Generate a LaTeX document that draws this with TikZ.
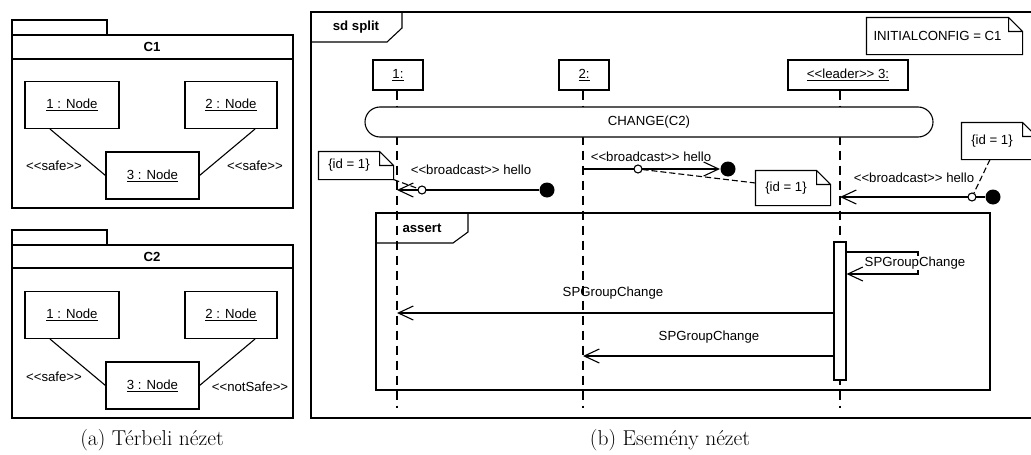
\documentclass[tikz,border=0pt]{standalone}
\usepackage{fontspec}
\newfontfamily\umlfont{Liberation Sans}
\newcommand{\sztereo}[1]{<\kern0pt<#1>\kern0pt>}
\usetikzlibrary{positioning, arrows.meta}

\begin{document}
\begin{tikzpicture}[x=1pt, y=-1pt, line width=1.1pt,
    doboz/.style={draw, rectangle, inner sep=0pt, font=\umlfont\fontsize{13.2}{15}\selectfont},
    cimke/.style={inner sep=1pt, font=\umlfont\fontsize{13.2}{15}\selectfont},
    fejlec/.style={inner sep=1pt, font=\umlfont\bfseries\fontsize{13.2}{15}\selectfont},
    megj/.style={rectangle, inner sep=0pt, font=\umlfont\fontsize{13.2}{15}\selectfont},
    eletvonal/.style={dash pattern=on 9pt off 6pt},
    kapocs/.style={dash pattern=on 6pt off 3pt},
    uzenet/.style={-{Straight Barb[length=15pt, width=14pt]}},
    felirat/.style={font=\fontsize{21.5}{24}\selectfont}]
    \useasboundingbox (0,0) rectangle (1031,455);

    % Térbeli nézet: C1
    \draw (12,20) rectangle (107,35);
    \draw (12,35) rectangle (293,208);
    \draw (12,59) -- (293,59);
    \node[fejlec] (c1) at (152,47) {C1};
    \node[doboz, minimum width=94pt, minimum height=47pt] (a1) at (72,105) {\underline{1 : Node}};
    \node[doboz, minimum width=92pt, minimum height=47pt] (a2) at (231,105) {\underline{2 : Node}};
    \node[doboz, minimum width=93pt, minimum height=47pt] (a3) at (152.5,175.5) {\underline{3 : Node}};
    \draw ([xshift=-22pt]a1.south) -- (a3.west);
    \draw ([xshift=24pt]a2.south) -- (a3.east);
    \node[cimke] (as1) at (54,166) {\sztereo{safe}};
    \node[cimke] (as2) at (255,166) {\sztereo{safe}};

    % Térbeli nézet: C2
    \draw (12,230) rectangle (107,245);
    \draw (12,245) rectangle (293,418);
    \draw (12,268) -- (293,268);
    \node[fejlec] (c2) at (152,257) {C2};
    \node[doboz, minimum width=94pt, minimum height=47pt] (b1) at (72,315) {\underline{1 : Node}};
    \node[doboz, minimum width=92pt, minimum height=47pt] (b2) at (231,315) {\underline{2 : Node}};
    \node[doboz, minimum width=93pt, minimum height=47pt] (b3) at (152.5,385.5) {\underline{3 : Node}};
    \draw ([xshift=-22pt]b1.south) -- (b3.west);
    \draw ([xshift=24pt]b2.south) -- (b3.east);
    \node[cimke] (bs1) at (54,377) {\sztereo{safe}};
    \node[cimke] (bs2) at (250,387) {\sztereo{notSafe}};

    % Esemény nézet: keret
    \draw (311,12) rectangle (1040,418);
    \draw[line width=2pt] (311,418) -- (1040,418);
    \draw (311,42) -- (387,42) -- (402,28) -- (402,12);
    \node[fejlec] (sd) at (356,27) {sd split};

    % Életvonalak
    \node[doboz, minimum width=50pt, minimum height=30pt] (h1) at (398,75) {\underline{1:}};
    \node[doboz, minimum width=50pt, minimum height=30pt] (h2) at (584,75) {\underline{2:}};
    \node[doboz, minimum width=120pt, minimum height=30pt] (h3) at (848,75) {\underline{\sztereo{leader} 3:}};
    \coordinate (v1) at (397,408);
    \coordinate (v2) at (583,408);
    \coordinate (v3) at (840,408);
    \draw[eletvonal] (h1.south -| v1) -- (v1);
    \draw[eletvonal] (h2.south -| v2) -- (v2);
    \draw[eletvonal] (h3.south -| v3) -- (v3);

    % Állapotváltás
    \node[doboz, rounded corners=15pt, fill=white, minimum width=568pt, minimum height=30pt] (valt) at (649,122) {CHANGE(C2)};

    % Megjegyzések
    \node[megj, minimum width=141pt, minimum height=36pt] (cfg) at (937.5,36) {INITIALCONFIG = C1};
    \node[megj, minimum width=60pt, minimum height=27pt] (m1) at (349,165.5) {\{id = 1\}};
    \node[megj, minimum width=60pt, minimum height=34pt] (m2) at (786,188) {\{id = 1\}};
    \node[megj, minimum width=60pt, minimum height=36pt] (m3) at (992,141) {\{id = 1\}};
    \foreach \m in {cfg,m1,m2,m3}
        \draw (\m.south west) -- (\m.north west) -- (\m.north east)
            -- ([xshift=14pt,yshift=-14pt]\m.north east) -- ([xshift=14pt]\m.south east) -- cycle
            (\m.north east) |- ([xshift=14pt,yshift=-14pt]\m.north east);

    % Üzenetek
    \node[circle, fill, inner sep=0pt, minimum size=15pt] (d1) at (547,190) {};
    \draw[uzenet] (d1) -- (v1 |- d1);
    \node[cimke] (l1) at (471,170) {\sztereo{broadcast} hello};
    \node[circle, fill, inner sep=0pt, minimum size=15pt] (d2) at (728,169) {};
    \draw[uzenet] (v2 |- d2) -- (d2);
    \node[cimke] (l2) at (651,157) {\sztereo{broadcast} hello};
    \node[circle, fill, inner sep=0pt, minimum size=15pt] (d3) at (993,197) {};
    \draw[uzenet] (d3) -- (v3 |- d3);
    \node[cimke] (l3) at (914,178) {\sztereo{broadcast} hello};
    \node[circle, draw, fill=white, inner sep=0pt, minimum size=8pt] (o1) at (422,190) {};
    \node[circle, draw, fill=white, inner sep=0pt, minimum size=8pt] (o2) at (638,169) {};
    \node[circle, draw, fill=white, inner sep=0pt, minimum size=8pt] (o3) at (972,197) {};
    \draw[kapocs] ([xshift=14pt]m1.south east) -- (o1);
    \draw[kapocs] (o2) -- ([yshift=5pt]m2.west);
    \draw[kapocs] ([xshift=-2pt]m3.south) -- (o3);

    % assert
    \draw (376,213) rectangle (990,390);
    \draw[line width=2pt] (376,390) -- (990,390);
    \draw (376,243) -- (453,243) -- (468,232) -- (468,213);
    \node[fejlec] (as) at (422,228) {assert};
    \node[draw, fill=white, inner sep=0pt, minimum width=12pt, minimum height=138pt] (akt) at (840,311) {};
    \coordinate (k1) at (918,252);
    \coordinate (k2) at (918,274);
    \draw[uzenet] (akt.east |- k1) -- (k1) -- (k2) -- (akt.east |- k2);
    \node[cimke, fill=white] (l4) at (915,263) {SPGroupChange};
    \coordinate (p5) at (0,313);
    \coordinate (p6) at (0,356);
    \draw[uzenet] (akt.west |- p5) -- (v1 |- p5);
    \node[cimke] (l5) at (613,293) {SPGroupChange};
    \draw[uzenet] (akt.west |- p6) -- (v2 |- p6);
    \node[cimke] (l6) at (709,337) {SPGroupChange};

    % Feliratok
    \node[felirat] (fa) at (152,440) {(a) Térbeli nézet};
    \node[felirat] (fb) at (670,440) {(b) Esemény nézet};
\end{tikzpicture}
\end{document}
